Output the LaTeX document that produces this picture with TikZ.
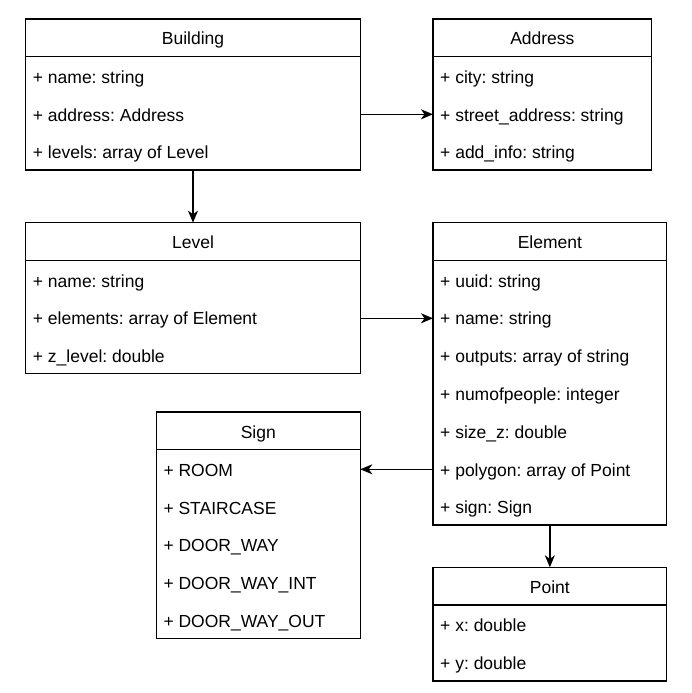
\documentclass[tikz,border=0pt]{standalone}
\usepackage{fontspec}
\setmainfont{Liberation Sans}
\usetikzlibrary{arrows.meta,calc}
\frenchspacing
\newcommand{\umlclass}[6]{%
  \node[classbox, minimum width=#4pt, minimum height=#5pt] (#1) at (#2,#3) {};
  \node[headbox, minimum width=#4pt] (#1-h) at (#2,#3) {};
  \node[titletext] (#1-t) at ($(#1-h.north)+(0,26)$) {#6};
}
\newcommand{\umlrow}[3]{%
  \node[rowtext] (#1-r#2) at ($(#1.north west)+(7,{64.3+(#2-1)*37.8})$) {#3};
}
\begin{document}
\begin{tikzpicture}[x=1pt,y=-1pt,
  font=\fontsize{17.5}{20}\selectfont,
  classbox/.style={draw=black, line width=1.3pt, fill=white, anchor=north west, inner sep=0pt, outer sep=0pt},
  headbox/.style={draw=black, line width=1.3pt, fill=white, anchor=north west, inner sep=0pt, outer sep=0pt, minimum height=37.7pt},
  titletext/.style={anchor=base, inner sep=0pt},
  rowtext/.style={anchor=base west, inner sep=0pt},
  arr/.style={draw=black, line width=1.4pt, -{Stealth[length=12pt,width=10pt,inset=3.5pt]}}]
\useasboundingbox (0,0) rectangle (692,693);
\fill[white] (0,0) rectangle (692,693);

\umlclass{Building}{25.7}{19}{334.6}{151.1}{Building}
\umlrow{Building}{1}{+ name: string}
\umlrow{Building}{2}{+ address: Address}
\umlrow{Building}{3}{+ levels: array of Level}

\umlclass{Address}{433}{19}{218.7}{151.1}{Address}
\umlrow{Address}{1}{+ city: string}
\umlrow{Address}{2}{+ street\_address: string}
\umlrow{Address}{3}{+ add\_info: string}

\umlclass{Level}{25.7}{222.7}{334.6}{150.6}{Level}
\umlrow{Level}{1}{+ name: string}
\umlrow{Level}{2}{+ elements: array of Element}
\umlrow{Level}{3}{+ z\_level: double}

\umlclass{Element}{433}{222.7}{233.7}{302.3}{Element}
\umlrow{Element}{1}{+ uuid: string}
\umlrow{Element}{2}{+ name: string}
\umlrow{Element}{3}{+ outputs: array of string}
\umlrow{Element}{4}{+ numofpeople: integer}
\umlrow{Element}{5}{+ size\_z: double}
\umlrow{Element}{6}{+ polygon: array of Point}
\umlrow{Element}{7}{+ sign: Sign}

\umlclass{Sign}{156.3}{412}{204}{226.3}{Sign}
\umlrow{Sign}{1}{+ ROOM}
\umlrow{Sign}{2}{+ STAIRCASE}
\umlrow{Sign}{3}{+ DOOR\_WAY}
\umlrow{Sign}{4}{+ DOOR\_WAY\_INT}
\umlrow{Sign}{5}{+ DOOR\_WAY\_OUT}

\umlclass{Point}{433}{567.3}{233.7}{113.7}{Point}
\umlrow{Point}{1}{+ x: double}
\umlrow{Point}{2}{+ y: double}

\coordinate (bA) at ($(Building.north east)+(0,95.3)$);
\coordinate (lE) at ($(Level.north east)+(0,95.6)$);
\coordinate (eS) at ($(Element.north west)+(0,246.6)$);
\draw[arr] (Building.south) -- (Level-h.north);
\draw[arr] (bA) -- (Address.west |- bA);
\draw[arr] (lE) -- (Element.west |- lE);
\draw[arr] (eS) -- (Sign.east |- eS);
\draw[arr] (Element.south) -- (Point-h.north);
\end{tikzpicture}
\end{document}
